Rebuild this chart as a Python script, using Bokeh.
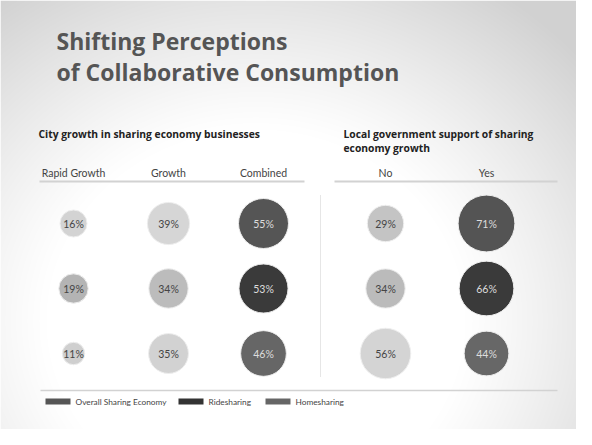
import numpy as np
from bokeh.plotting import figure
from bokeh.models import Range1d
from bokeh.core.properties import value
from bokeh.embed import file_html
from bokeh.resources import INLINE

title_lines = ["Shifting Perceptions", "of Collaborative Consumption"]
left_title = ["City growth in sharing economy businesses"]
right_title = ["Local government support of sharing", "economy growth"]
left_cols = ["Rapid Growth", "Growth", "Combined"]
right_cols = ["No", "Yes"]
rows = ["Overall Sharing Economy", "Ridesharing", "Homesharing"]
rapid = [16, 19, 11]
growth = [39, 34, 35]
combined = [55, 53, 46]
no_support = [29, 34, 56]
yes_support = [71, 66, 44]

W, H = 576, 429
p = figure(width=W, height=H, output_backend="svg", toolbar_location=None,
           x_range=Range1d(0, W), y_range=Range1d(H, 0),
           min_border=0, border_fill_color="white", background_fill_color="white")
p.axis.visible = False
p.grid.visible = False
p.outline_line_color = None

# background gradient
xs = np.arange(W)
ys = np.arange(H)
X, Y = np.meshgrid(xs, ys)
d = np.sqrt(((X - 255) / 350.0) ** 2 + ((Y - 320) / 320.0) ** 2)
g = 255 - 46 * np.clip((d - 0.6) / 0.65, 0, 1) ** 1.1
g = g.astype(np.uint8)
img = np.empty((H, W), dtype=np.uint32)
view = img.view(dtype=np.uint8).reshape((H, W, 4))
view[:, :, 0] = g
view[:, :, 1] = g
view[:, :, 2] = g
view[:, :, 3] = 255
p.image_rgba(image=[img], x=0, y=0, dw=W, dh=H)

LATO = value("Lato")
OPEN = value("Open Sans")

# title
p.text(x=[56, 56], y=[40, 71], text=title_lines, text_font=OPEN, text_font_style="bold",
       text_font_size="23px", text_color="#555555", text_baseline="middle")

# panel titles
p.text(x=[38], y=[133], text=left_title, text_font=OPEN, text_font_style="bold",
       text_font_size="10.3px", text_color="#222222", text_baseline="middle")
p.text(x=[343, 343], y=[133, 147], text=right_title, text_font=OPEN, text_font_style="bold",
       text_font_size="10.3px", text_color="#222222", text_baseline="middle")

left_x = [73, 168, 263]
right_x = [385, 486]
row_y = [223, 288, 353]

p.text(x=left_x + right_x, y=[172] * 5, text=left_cols + right_cols, text_font=LATO,
       text_font_size="10.5px", text_color="#444444", text_align="center", text_baseline="middle")

# header rules
p.segment(x0=[39, 334], y0=[181, 181], x1=[304, 557], y1=[181, 181], line_color="#d2d2d2", line_width=2)
# bottom rule
p.segment(x0=[40], y0=[390], x1=[557], y1=[390], line_color="#d2d2d2", line_width=1.5)
# dotted separator
p.segment(x0=[320], y0=[195], x1=[320], y1=[377], line_color="#cccccc", line_width=1, line_dash="1 1")

fills = {
    0: ["#d3d3d3", "#b4b4b4", "#cfcfcf"],
    1: ["#d6d6d6", "#bcbcbc", "#d2d2d2"],
    2: ["#555555", "#3a3a3a", "#666666"],
    3: ["#c4c4c4", "#bbbbbb", "#d4d4d4"],
    4: ["#545454", "#3a3a3a", "#676767"],
}
series = [rapid, growth, combined, no_support, yes_support]
col_x = left_x + right_x
cx, cy, r, fc, lab, tc = [], [], [], [], [], []
for ci, vals in enumerate(series):
    for ri, v in enumerate(vals):
        cx.append(col_x[ci]); cy.append(row_y[ri])
        r.append(3.37 * np.sqrt(v))
        fc.append(fills[ci][ri])
        lab.append(f"{v}%")
        tc.append("#dddddd" if ci in (2, 4) else "#444444")

p.circle(x=cx, y=cy, radius=r, fill_color=fc, line_color="#eeeeee", line_width=1)
p.text(x=cx, y=cy, text=lab, text_color=tc, text_font=LATO, text_font_size="10.5px",
       text_align="center", text_baseline="middle")

# legend
sw_x = [45, 178, 265]
sw_colors = ["#555555", "#333333", "#666666"]
p.quad(left=sw_x, right=[x + 25 for x in sw_x], top=[398] * 3, bottom=[404] * 3,
       fill_color=sw_colors, line_color=None)
p.text(x=[x + 30 for x in sw_x], y=[401] * 3, text=rows, text_font=LATO, text_font_size="8.3px",
       text_color="#444444", text_baseline="middle")

open("out.html", "w").write(file_html(p, INLINE))
